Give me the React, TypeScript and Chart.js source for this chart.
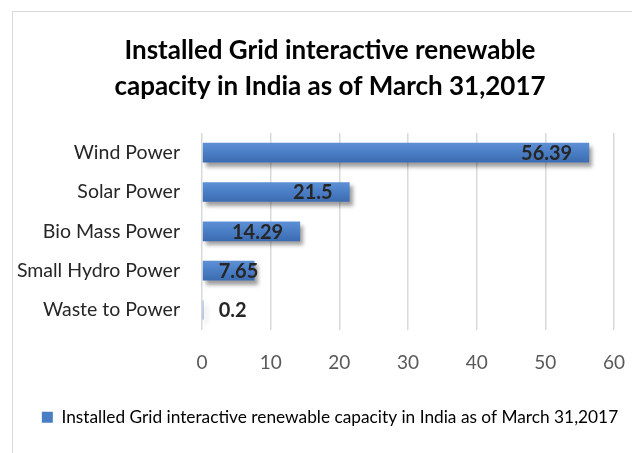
import React, { useEffect, useRef } from "react";
import { Chart, registerables } from "chart.js";

Chart.register(...registerables);

const categories = ["Wind Power", "Solar Power", "Bio Mass Power", "Small Hydro Power", "Waste to Power"];
const capacityValues = [56.39, 21.5, 14.29, 7.65, 0.2];
const seriesName = "Installed Grid interactive renewable capacity in India as of March 31,2017";
const titleLines = ["Installed Grid interactive renewable", "capacity in India as of March 31,2017"];
const xTickMin = 0;
const xTickMax = 60;
const xTickStep = 10;

const FONT = "Lato, 'Open Sans', sans-serif";

const barShadowPlugin = {
  id: "barShadow",
  beforeDatasetsDraw(chart: any) {
    const ctx = chart.ctx;
    ctx.save();
    ctx.shadowColor = "rgba(0,0,0,0.38)";
    ctx.shadowBlur = 4;
    ctx.shadowOffsetX = 3;
    ctx.shadowOffsetY = 4;
  },
  afterDatasetsDraw(chart: any) {
    chart.ctx.restore();
  },
};

const dataLabelPlugin = {
  id: "dataLabels",
  afterDatasetsDraw(chart: any) {
    const ctx = chart.ctx;
    const meta = chart.getDatasetMeta(0);
    const data = chart.data.datasets[0].data as number[];
    ctx.save();
    ctx.font = `bold 20px ${FONT}`;
    ctx.fillStyle = "#262626";
    ctx.textAlign = "right";
    ctx.textBaseline = "middle";
    meta.data.forEach((bar: any, i: number) => {
      const text = String(data[i]);
      const w = ctx.measureText(text).width;
      const xRight = Math.max(bar.x - 17, bar.base + 16 + w);
      ctx.fillText(text, xRight, bar.y + 1);
    });
    ctx.restore();
  },
};

export default function App() {
  const canvasRef = useRef<HTMLCanvasElement | null>(null);

  useEffect(() => {
    if (!canvasRef.current) return;
    const chart = new Chart(canvasRef.current, {
      type: "bar",
      data: {
        labels: categories,
        datasets: [
          {
            label: seriesName,
            data: capacityValues,
            backgroundColor: (c: any) => {
              const chartObj = c.chart;
              const yScale = chartObj.scales && chartObj.scales.y;
              if (c.type !== "data" || !yScale) return "#4a7ec4";
              const yc = yScale.getPixelForValue(c.dataIndex);
              const g = chartObj.ctx.createLinearGradient(0, yc - 10, 0, yc + 10);
              g.addColorStop(0, "#5e90d6");
              g.addColorStop(0.5, "#4a7ec4");
              g.addColorStop(1, "#3b6bb1");
              return g;
            },
            borderWidth: 0,
            categoryPercentage: 1,
            barPercentage: 0.5,
            xAxisID: "x",
            yAxisID: "y",
          },
        ],
      },
      options: {
        indexAxis: "y",
        responsive: false,
        animation: false,
        layout: { padding: { left: 0, right: 0, top: 0, bottom: 17 } },
        scales: {
          x: {
            min: xTickMin,
            max: xTickMax,
            ticks: {
              stepSize: xTickStep,
              color: "#595959",
              font: { family: FONT, size: 19 },
              padding: 22,
            },
            grid: { color: "#d9d9d9", lineWidth: 1.5, drawTicks: false },
            border: { display: false },
            afterFit: (scale: any) => {
              scale.height = 69;
            },
          },
          y: {
            ticks: {
              color: "#262626",
              font: { family: FONT, size: 19.5 },
              padding: 22,
            },
            grid: { display: false, drawTicks: false },
            border: { display: false },
            afterFit: (scale: any) => {
              scale.width = 189;
            },
          },
          yRight: {
            type: "linear",
            axis: "y",
            position: "right",
            display: true,
            ticks: { display: false },
            grid: { display: false, drawTicks: false },
            border: { display: false },
            afterFit: (scale: any) => {
              scale.width = 29;
            },
          },
        },
        plugins: {
          title: {
            display: true,
            text: titleLines,
            color: "#000000",
            font: { family: FONT, size: 26, weight: "bold", lineHeight: "36px" },
            padding: { top: 21, bottom: 28 },
          },
          legend: {
            display: true,
            position: "bottom",
            labels: {
              boxWidth: 11,
              boxHeight: 11,
              padding: 10,
              color: "#262626",
              font: { family: FONT, size: 17.3 },
              generateLabels: (ch: any) => [
                {
                  text: ch.data.datasets[0].label,
                  fillStyle: "#4a7ec4",
                  strokeStyle: "#4a7ec4",
                  lineWidth: 0,
                  hidden: false,
                  datasetIndex: 0,
                },
              ],
            },
          },
          tooltip: { enabled: false },
        },
      },
      plugins: [barShadowPlugin, dataLabelPlugin],
    } as any);
    return () => chart.destroy();
  }, []);

  return (
    <div
      style={{
        position: "fixed",
        left: 0,
        top: 0,
        width: 632,
        height: 453,
        overflow: "hidden",
        background: "#ffffff",
      }}
    >
      <div
        style={{
          position: "absolute",
          left: 12,
          top: 11,
          width: 634,
          height: 441,
          border: "1px solid #d9d9d9",
          background: "#ffffff",
        }}
      >
        <canvas
          ref={canvasRef}
          width={634}
          height={441}
          style={{ position: "absolute", left: 0, top: 0, width: 634, height: 441 }}
        />
      </div>
    </div>
  );
}
